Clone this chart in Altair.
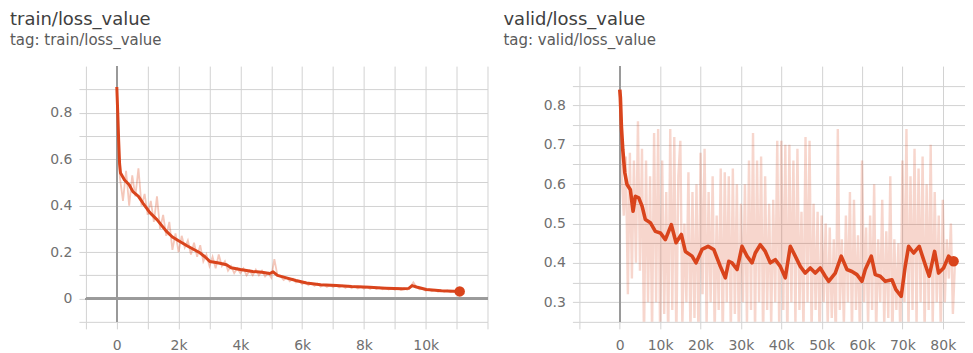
import altair as alt
import pandas as pd

# ---------------- data ----------------
train_raw_steps = list(range(0, 11101, 100))
train_raw_values = [
    0.91, 0.52, 0.42, 0.55, 0.40, 0.53, 0.44, 0.56, 0.40, 0.45,
    0.36, 0.42, 0.33, 0.44, 0.30, 0.36, 0.27, 0.33, 0.21, 0.28,
    0.20, 0.27, 0.22, 0.25, 0.19, 0.24, 0.18, 0.23, 0.16, 0.19,
    0.14, 0.18, 0.13, 0.19, 0.14, 0.16, 0.12, 0.14, 0.11, 0.13,
    0.11, 0.13, 0.10, 0.12, 0.10, 0.125, 0.10, 0.12, 0.095, 0.11,
    0.09, 0.17, 0.10, 0.095, 0.08, 0.09, 0.075, 0.085, 0.07, 0.075,
    0.062, 0.072, 0.058, 0.066, 0.055, 0.064, 0.052, 0.06, 0.05, 0.058,
    0.05, 0.057, 0.048, 0.056, 0.046, 0.055, 0.045, 0.053, 0.044, 0.052,
    0.043, 0.051, 0.042, 0.05, 0.041, 0.048, 0.04, 0.047, 0.039, 0.046,
    0.038, 0.045, 0.037, 0.044, 0.038, 0.05, 0.07, 0.05, 0.04, 0.042,
    0.034, 0.04, 0.032, 0.038, 0.03, 0.036, 0.029, 0.035, 0.028, 0.034,
    0.027, 0.031,
]

train_smooth_steps = [0, 30, 60, 90, 120, 250, 400, 520, 700, 850, 1070, 1300,
                      1600, 1800, 2040, 2300, 2690, 2850, 3010, 3300, 3550, 3700,
                      4000, 4400, 4700, 4950, 5060, 5200, 5490, 5800, 6140, 6600,
                      7110, 7600, 8190, 8700, 9260, 9450, 9560, 9700, 10020, 10500,
                      11100]
train_smooth_values = [0.91, 0.80, 0.68, 0.58, 0.54, 0.51, 0.49, 0.46, 0.44, 0.41,
                       0.37, 0.34, 0.29, 0.265, 0.246, 0.225, 0.197, 0.18, 0.16,
                       0.153, 0.146, 0.133, 0.125, 0.117, 0.113, 0.108, 0.115, 0.10,
                       0.089, 0.078, 0.067, 0.06, 0.056, 0.052, 0.049, 0.045, 0.042,
                       0.044, 0.056, 0.05, 0.039, 0.034, 0.031]

valid_raw_steps = list(range(0, 83001, 500))
valid_raw_values = [
    0.84, 0.62, 0.52, 0.67, 0.32, 0.68, 0.36, 0.66, 0.40, 0.76,
    0.38, 0.69, 0.20, 0.66, 0.30, 0.62, 0.22, 0.73, 0.30, 0.74,
    0.20, 0.66, 0.27, 0.58, 0.20, 0.74, 0.28, 0.72, 0.20, 0.62,
    0.71, 0.24, 0.50, 0.30, 0.63, 0.22, 0.58, 0.26, 0.60, 0.20,
    0.68, 0.32, 0.69, 0.24, 0.58, 0.30, 0.62, 0.22, 0.52, 0.28,
    0.64, 0.20, 0.63, 0.30, 0.62, 0.22, 0.64, 0.27, 0.60, 0.20,
    0.55, 0.30, 0.60, 0.24, 0.66, 0.28, 0.73, 0.22, 0.66, 0.30,
    0.67, 0.20, 0.62, 0.28, 0.55, 0.24, 0.56, 0.30, 0.71, 0.22,
    0.71, 0.28, 0.70, 0.20, 0.70, 0.30, 0.66, 0.24, 0.69, 0.28,
    0.53, 0.22, 0.72, 0.30, 0.71, 0.22, 0.55, 0.28, 0.53, 0.20,
    0.52, 0.30, 0.50, 0.24, 0.49, 0.26, 0.46, 0.20, 0.74, 0.28,
    0.46, 0.24, 0.52, 0.30, 0.58, 0.22, 0.56, 0.28, 0.47, 0.20,
    0.66, 0.30, 0.49, 0.24, 0.52, 0.28, 0.60, 0.22, 0.46, 0.30,
    0.56, 0.24, 0.48, 0.26, 0.62, 0.20, 0.46, 0.28, 0.45, 0.20,
    0.66, 0.30, 0.74, 0.22, 0.62, 0.28, 0.69, 0.24, 0.64, 0.30,
    0.67, 0.22, 0.60, 0.28, 0.70, 0.24, 0.58, 0.30, 0.52, 0.22,
    0.56, 0.30, 0.46, 0.36, 0.50, 0.27, 0.40,
]

valid_smooth_steps = [
    0, 150, 400, 740, 1240, 1800, 2620, 3290, 3860, 4700, 5520, 6340, 7570,
    8810, 10050, 11290, 12770, 13940, 15250, 16240, 17900, 18890, 20370,
    21860, 23270, 24900, 26140, 27000, 27800, 29040, 30270, 31510, 32750,
    33560, 34800, 36040, 37270, 38510, 39750, 40990, 42230, 43460, 44700,
    45940, 47180, 48420, 49650, 50890, 51730, 53370, 54850, 56260, 57500,
    58740, 59980, 60800, 62290, 63270, 64510, 65740, 67400, 68390, 69700,
    70690, 71530, 72770, 74160, 75500, 76630, 77970, 78960, 80200, 81440,
    82670,
]
valid_smooth_values = [
    0.84, 0.82, 0.747, 0.688, 0.629, 0.599, 0.586, 0.531, 0.569, 0.565,
    0.544, 0.51, 0.502, 0.48, 0.476, 0.459, 0.497, 0.451, 0.472, 0.429,
    0.417, 0.40, 0.434, 0.442, 0.434, 0.391, 0.362, 0.404, 0.40, 0.383,
    0.442, 0.417, 0.40, 0.425, 0.446, 0.429, 0.40, 0.408, 0.391, 0.362,
    0.442, 0.417, 0.391, 0.374, 0.387, 0.374, 0.387, 0.366, 0.353, 0.374,
    0.417, 0.383, 0.378, 0.37, 0.353, 0.383, 0.417, 0.37, 0.366, 0.353,
    0.357, 0.332, 0.315, 0.391, 0.442, 0.425, 0.442, 0.40, 0.366, 0.429,
    0.374, 0.387, 0.417, 0.404,
]

train_x_grid = [-1000, 0, 1000, 2000, 3000, 4000, 5000, 6000, 7000, 8000, 9000,
                10000, 11000, 12000]
train_y_grid = [-0.1, 0, 0.1, 0.2, 0.3, 0.4, 0.5, 0.6, 0.7, 0.8, 0.9]
valid_x_grid = [-10000, 0, 10000, 20000, 30000, 40000, 50000, 60000, 70000, 80000]
valid_y_grid = [0.25, 0.3, 0.35, 0.4, 0.45, 0.5, 0.55, 0.6, 0.65, 0.7, 0.75,
                0.8, 0.85]

# ---------------- style ----------------
FONT = "DejaVu Sans"
RED = "#d9441c"
GRID = "#d2d2d2"
ZERO = "#9a9a9a"
LABEL = "#707070"


def panel(raw_s, raw_v, sm_s, sm_v, title, xdom, ydom, xgrid, ygrid,
          xlabel, ylabel, width, height, zero_y, line_w, raw_w, raw_op):
    raw = pd.DataFrame({"step": raw_s, "value": raw_v})
    sm = pd.DataFrame({"step": sm_s, "value": sm_v})
    last = sm.tail(1)

    xs = alt.Scale(domain=xdom, nice=False, zero=False)
    ys = alt.Scale(domain=ydom, nice=False, zero=False)
    xax = alt.Axis(values=xgrid, tickCount=100, labelExpr=xlabel, title=None)
    yax = alt.Axis(values=ygrid, tickCount=100, labelExpr=ylabel, title=None)

    X = alt.X("step:Q", scale=xs, axis=xax)
    Y = alt.Y("value:Q", scale=ys, axis=yax)

    layers = [
        alt.Chart(raw).mark_line(color=RED, strokeWidth=raw_w, opacity=raw_op,
                                 clip=True).encode(x=X, y=Y),
        alt.Chart(raw).mark_rule(color=ZERO, strokeWidth=1.6).encode(x=alt.datum(0)),
    ]
    if zero_y:
        layers.append(
            alt.Chart(raw).mark_rule(color=ZERO, strokeWidth=1.6).encode(y=alt.datum(0))
        )
    layers += [
        alt.Chart(sm).mark_line(color=RED, strokeWidth=line_w, clip=True,
                                strokeJoin="round").encode(x=X, y=Y),
        alt.Chart(last).mark_circle(color=RED, size=110, opacity=1).encode(x=X, y=Y),
    ]
    return alt.layer(*layers).properties(
        width=width,
        height=height,
        title=alt.TitleParams(
            text=title,
            subtitle="tag: " + title,
            anchor="start",
            frame="group",
            dx=-76,
            font=FONT,
            fontSize=18,
            fontWeight="normal",
            color="#404040",
            subtitleFont=FONT,
            subtitleFontSize=15,
            subtitleColor="#5a5a5a",
            subtitlePadding=4,
            offset=17,
        ),
    )


left = panel(
    train_raw_steps, train_raw_values, train_smooth_steps, train_smooth_values,
    "train/loss_value", [-1000, 12000], [-0.1, 1.0], train_x_grid, train_y_grid,
    "datum.value >= 0 && datum.value <= 10000 && datum.value % 2000 == 0 ? "
    "(datum.value == 0 ? '0' : (datum.value / 1000) + 'k') : ''",
    "datum.value >= 0 && abs(datum.value * 5 - round(datum.value * 5)) < 0.001 ? "
    "(datum.value == 0 ? '0' : format(datum.value, '.1f')) : ''",
    402, 256, True, 3, 1.8, 0.3,
)

right = panel(
    valid_raw_steps, valid_raw_values, valid_smooth_steps, valid_smooth_values,
    "valid/loss_value", [-10000, 85500], [0.25, 0.9], valid_x_grid, valid_y_grid,
    "datum.value < 0 ? '' : (datum.value == 0 ? '0' : (datum.value / 1000) + 'k')",
    "abs(datum.value * 10 - round(datum.value * 10)) < 0.001 ? "
    "format(datum.value, '.1f') : ''",
    386, 256, False, 3.6, 2.4, 0.22,
)

chart = alt.hconcat(left, right, spacing=15).properties(
    padding={"left": 2, "top": 3, "right": 0, "bottom": 0},
    background="white",
).configure_view(
    stroke=None
).configure_axis(
    grid=True,
    gridColor=GRID,
    gridWidth=1,
    domain=False,
    ticks=True,
    tickColor=GRID,
    tickSize=7,
    labelFont=FONT,
    labelFontSize=14,
    labelColor=LABEL,
    labelPadding=7,
    labelOverlap=False,
).configure_axisX(
    labelPadding=10,
)

chart.save("out.html", embed_options={"renderer": "svg", "actions": False})
